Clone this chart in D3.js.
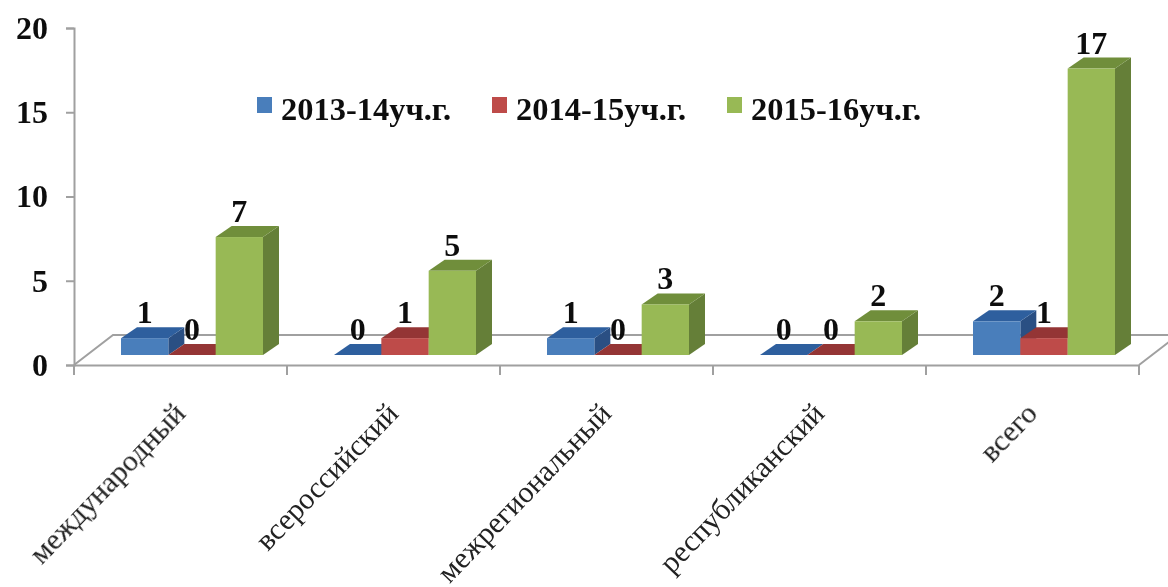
<!DOCTYPE html>
<html><head><meta charset="utf-8">
<script src="https://cdn.jsdelivr.net/npm/d3@7"></script>
<style>html,body{margin:0;background:#fff;overflow:hidden}svg{display:block}</style>
</head><body><svg id="c" width="1168" height="587"></svg>
<script>
const categories = ["международный","всероссийский","межрегиональный","республиканский","всего"];
const seriesNames = ["2013-14уч.г.","2014-15уч.г.","2015-16уч.г."];
const values2013 = [1,0,1,0,2];
const values2014 = [0,1,0,0,1];
const values2015 = [7,5,3,2,17];
const yTicks = [0,5,10,15,20];
const front = ["#4a7ebb","#be4b48","#98b954"];
const topc = ["#2f5f9e","#943634","#6f8e3a"];
const side = ["#2a4f83","#7f2f2d","#657f38"];
const series = [values2013,values2014,values2015];

const svg = d3.select("#c");
const defs = svg.append("defs");
defs.append("filter").attr("id","soft").append("feGaussianBlur").attr("stdDeviation",0.5);
const root = svg.append("g").attr("filter","url(#soft)");
const serif = "'Liberation Serif',serif";

const x = d3.scaleBand().domain(categories).range([74,1139]);
const y = d3.scaleLinear().domain([0,20]).range([365,28]);
const inner = d3.scaleBand().domain([0,1,2]).range([47,189]);
const lift = 10, dx = 16, dy = 11, fx = 39, fy = 30;

// floor
const grey = "#a0a0a0";
const base = y(0);
root.append("path").attr("fill","none").attr("stroke",grey).attr("stroke-width",2)
  .attr("d",d3.line()([[x.range()[0],base],[x.range()[0]+fx,base-fy],[1168,base-fy]]));
root.append("path").attr("fill","none").attr("stroke",grey).attr("stroke-width",2)
  .attr("d",d3.line()([[x.range()[1],base],[x.range()[1]+fx*0.8,base-fy*0.8]]));

// axes
const yAxis = d3.axisLeft(y).tickValues(yTicks).tickSize(8);
const gy = root.append("g").attr("transform","translate(74,0)").call(yAxis);
gy.selectAll("text").attr("font-family",serif).attr("font-weight","bold").attr("font-size",32).attr("fill","#111").attr("x",-26);
const xAxis = d3.axisBottom(x).tickValues([]).tickSize(0);
root.append("g").attr("transform",`translate(0,${base})`).call(xAxis);
root.selectAll(".domain").attr("stroke",grey).attr("stroke-width",2);
gy.selectAll("line").attr("stroke",grey).attr("stroke-width",2);
const edges = categories.map(c=>x(c)).concat([x.range()[1]]);
root.append("g").selectAll("line").data(edges).join("line")
  .attr("x1",d=>d).attr("x2",d=>d).attr("y1",base).attr("y2",base+10)
  .attr("stroke",grey).attr("stroke-width",2);

// bars
categories.forEach((c,i)=>{
  const g = root.append("g");
  series.forEach((s,k)=>{
    const v = s[i], x0 = x(c)+inner(k), w = inner.bandwidth();
    const b = y(0)-lift, t = y(v)-lift;
    g.append("path").attr("fill",side[k]).attr("d",d3.line()([[x0+w,t],[x0+w+dx,t-dy],[x0+w+dx,b-dy],[x0+w,b]])+"Z");
    g.append("path").attr("fill",topc[k]).attr("d",d3.line()([[x0,t],[x0+dx,t-dy],[x0+w+dx,t-dy],[x0+w,t]])+"Z");
    if(v>0) g.append("rect").attr("x",x0).attr("y",t).attr("width",w).attr("height",b-t).attr("fill",front[k]);
  });
  series.forEach((s,k)=>{
    g.append("text").attr("x",x(c)+inner(k)+inner.bandwidth()/2).attr("y",y(s[i])-lift-dy-4)
      .attr("text-anchor","middle").attr("font-family",serif).attr("font-weight","bold").attr("font-size",32).attr("fill","#111").text(s[i]);
  });
  root.append("text").attr("transform",`translate(${x(c)+113},415) rotate(-46)`)
    .attr("text-anchor","end").attr("font-family",serif).attr("font-size",30).attr("fill","#222").text(c);
});

// legend
const legX = d3.scaleOrdinal().domain(seriesNames).range([257,492,727]);
const leg = root.append("g").selectAll("g").data(seriesNames).join("g").attr("transform",d=>`translate(${legX(d)},0)`);
leg.append("rect").attr("y",97).attr("width",15).attr("height",16).attr("fill",(d,i)=>front[i]);
leg.append("text").attr("x",24).attr("y",120).attr("font-family",serif).attr("font-weight","bold").attr("font-size",31)
  .attr("fill","#111").attr("textLength",170).attr("lengthAdjust","spacingAndGlyphs").text(d=>d);
</script></body></html>
